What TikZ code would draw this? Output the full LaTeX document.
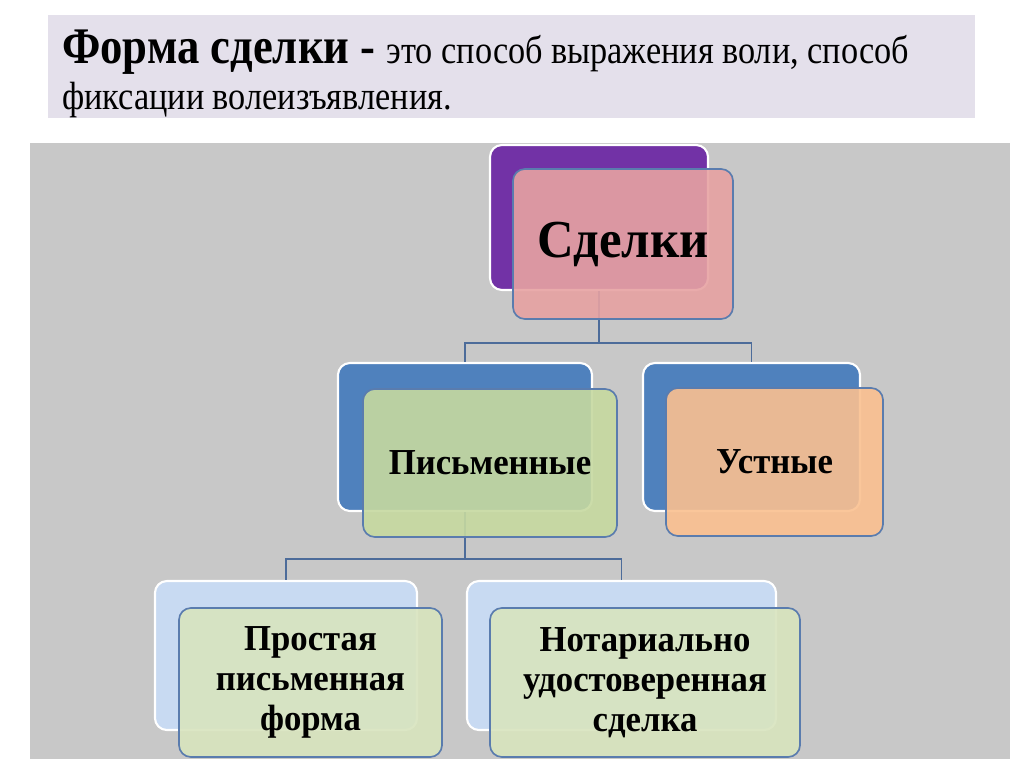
\documentclass[tikz,border=0pt]{standalone}
\usepackage{fontspec}
\setmainfont{Liberation Serif}
\newfontfamily\headfont[FakeStretch=0.87]{Liberation Serif}
\newfontfamily\boxfont[FakeStretch=0.95]{Liberation Serif}
\usetikzlibrary{positioning}

\definecolor{headbg}{HTML}{E4E0EB}
\definecolor{panelgray}{HTML}{C8C8C8}
\definecolor{framecol}{HTML}{5A7CAE}
\definecolor{linkcol}{HTML}{4D6C9A}
\definecolor{purplebox}{HTML}{7232A6}
\definecolor{pinkbox}{HTML}{E7A2A2}
\definecolor{bluebox}{HTML}{4F81BD}
\definecolor{greenbox}{HTML}{C6D9A0}
\definecolor{orangebox}{HTML}{FAC090}
\definecolor{paleblue}{HTML}{C8DAF2}
\definecolor{palegreen}{HTML}{D8E4BE}

\begin{document}
\begin{tikzpicture}[x=0.025cm, y=-0.025cm,
  box/.style={rounded corners=0.3cm, inner sep=0pt, align=center},
  back/.style={box, draw=white, line width=1.5pt},
  front/.style={box, draw=framecol, line width=1.2pt, fill opacity=0.9, text opacity=1,
    font=\boxfont\bfseries\fontsize{26}{28.5}\selectfont},
  link/.style={draw=linkcol, line width=1pt}]
  \useasboundingbox[fill=white] (0,0) rectangle (1024,767);

  % title
  \fill[headbg] (48,15) rectangle (975,118);
  \node[anchor=base west, inner sep=0pt, font=\headfont] (title1) at (62,64)
    {{\bfseries\fontsize{36.5}{40}\selectfont Форма сделки - }\fontsize{28}{30}\selectfont это способ выражения воли, способ};
  \node[anchor=base west, inner sep=0pt, font=\headfont] (title2) at (62,110)
    {\fontsize{28}{30}\selectfont фиксации волеизъявления.};

  % panel
  \fill[panelgray] (30,143) rectangle (1010,759);

  % back boxes
  \node[back, fill=purplebox, minimum width=5.45cm, minimum height=3.625cm] (sd-back) at (599,217.5) {};
  \node[back, fill=bluebox, minimum width=6.35cm, minimum height=3.7cm] (pi-back) at (465,437) {};
  \node[back, fill=bluebox, minimum width=5.425cm, minimum height=3.7cm] (us-back) at (751.5,437) {};
  \node[back, fill=paleblue, minimum width=6.55cm, minimum height=3.725cm] (pr-back) at (286,655.5) {};
  \node[back, fill=paleblue, minimum width=7.725cm, minimum height=3.725cm] (no-back) at (621.5,655.5) {};

  % links
  \draw[link] (sd-back.south) -- ++(0,52) -| (pi-back.north);
  \draw[link] (sd-back.south) -- ++(0,52) -| (us-back.north);
  \draw[link] (pi-back.south) -- ++(0,47) -| (pr-back.north);
  \draw[link] (pi-back.south) -- ++(0,47) -| (no-back.north);

  % front boxes
  \node[front, fill=pinkbox, minimum width=5.5cm, minimum height=3.75cm,
    font=\boxfont\bfseries\fontsize{38}{40}\selectfont] (sd) at ([shift={(24,26.5)}]sd-back) {Сделки};
  \node[front, fill=greenbox, minimum width=6.35cm, minimum height=3.7cm] (pi) at ([shift={(25,26)}]pi-back) {Письменные};
  \node[front, fill=orangebox, minimum width=5.425cm, minimum height=3.7cm] (us) at ([shift={(23,25)}]us-back) {Устные};
  \node[front, fill=palegreen, minimum width=6.575cm, minimum height=3.725cm] (pr) at ([shift={(24.5,27)}]pr-back) {Простая\\письменная\\форма};
  \node[front, fill=palegreen, minimum width=7.75cm, minimum height=3.725cm] (no) at ([shift={(23.5,27)}]no-back) {Нотариально\\удостоверенная\\сделка};
\end{tikzpicture}
\end{document}
